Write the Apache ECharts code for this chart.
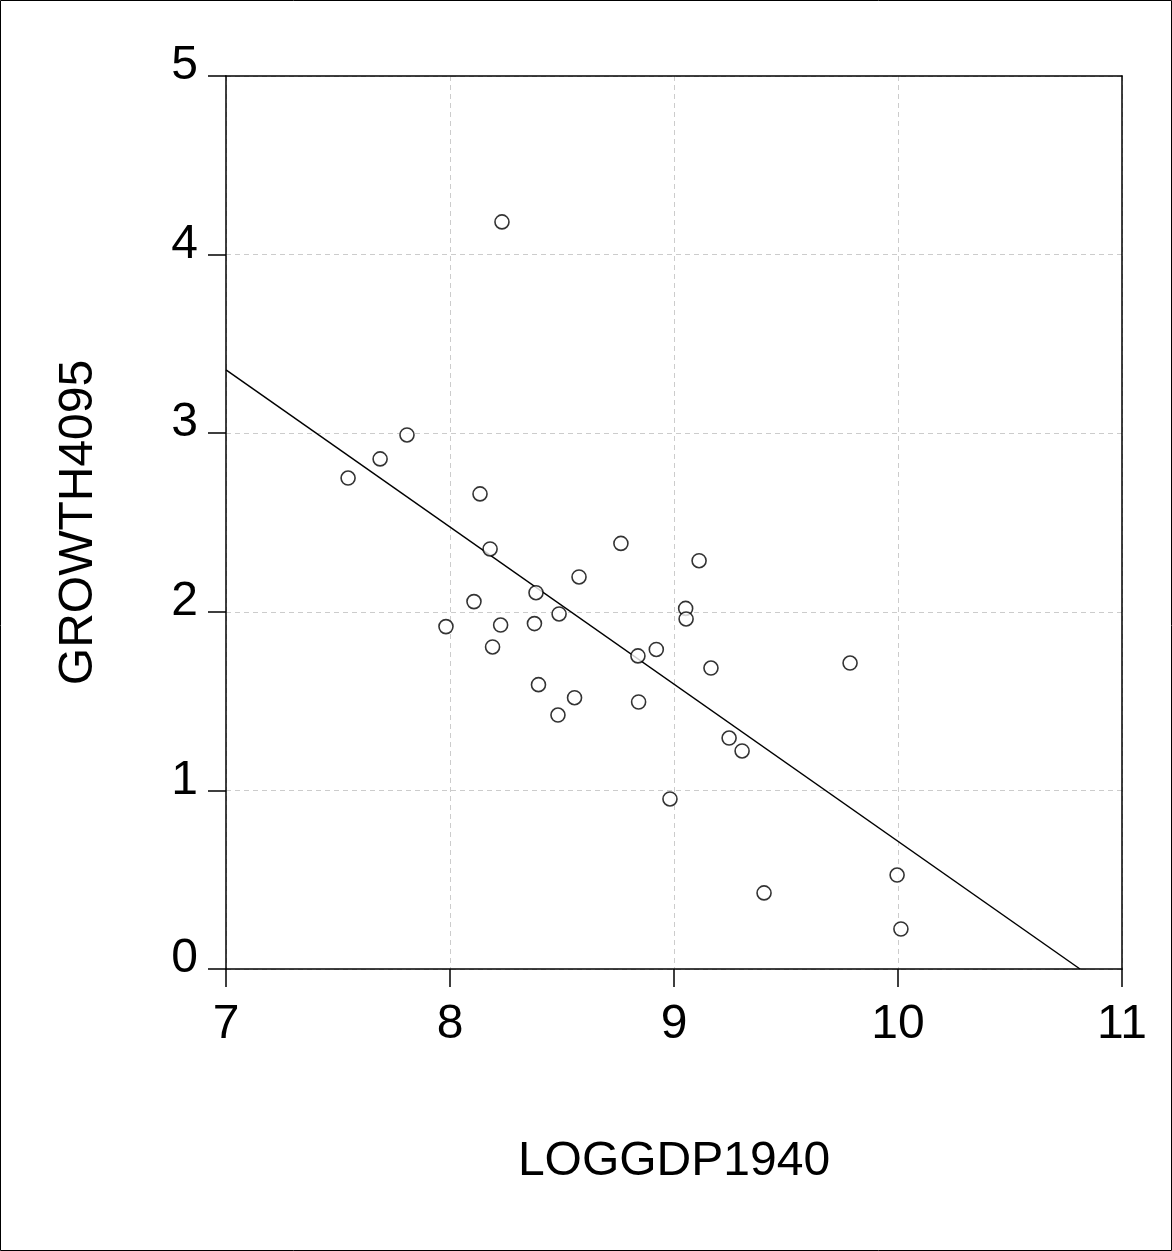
<!DOCTYPE html>
<html>
<head>
<meta charset="utf-8">
<script src="https://cdn.jsdelivr.net/npm/echarts@6/dist/echarts.min.js"></script>
<style>
html,body{margin:0;padding:0;background:#fff;}
#c{width:1172px;height:1251px;}
</style>
</head>
<body>
<div id="c"></div>
<script>
var loggdp1940 = [7.545, 7.688, 7.808, 7.982, 8.107, 8.134, 8.179, 8.190, 8.226, 8.232,
  8.377, 8.384, 8.395, 8.487, 8.482, 8.556, 8.576, 8.763, 8.839, 8.842,
  8.921, 8.982, 9.052, 9.054, 9.112, 9.165, 9.246, 9.304, 9.402, 9.786,
  9.996, 10.013];
var growth4095 = [2.749, 2.856, 2.990, 1.917, 2.057, 2.660, 2.352, 1.803, 1.926, 4.183,
  1.934, 2.107, 1.592, 1.988, 1.422, 1.519, 2.195, 2.383, 1.753, 1.495,
  1.789, 0.952, 2.019, 1.960, 2.286, 1.685, 1.293, 1.221, 0.426, 1.713,
  0.526, 0.224];
var fitX = [7, 10.8125];
var fitY = [3.355, 0];
var xTicks = [7, 8, 9, 10, 11];
var yTicks = [0, 1, 2, 3, 4, 5];

var pts = loggdp1940.map(function (x, i) { return [x, growth4095[i]]; });
var fit = fitX.map(function (x, i) { return [x, fitY[i]]; });

var chart = echarts.init(document.getElementById('c'), null, {renderer: 'canvas'});
var font = 'Liberation Sans, Arial, sans-serif';
var frameAxis = {
  show: true,
  axisLine: {show: true, onZero: false, lineStyle: {color: '#000', width: 1.5}},
  axisTick: {show: false}, axisLabel: {show: false}, splitLine: {show: false}
};
chart.setOption({
  animation: false,
  backgroundColor: '#fff',
  graphic: [{
    type: 'rect', silent: true, z: 100,
    shape: {x: 0.5, y: 0.5, width: 1171, height: 1250},
    style: {fill: 'none', stroke: '#000', lineWidth: 1}
  }],
  grid: {left: 226, right: 50, top: 76, bottom: 282},
  xAxis: [{
    type: 'value', min: xTicks[0], max: xTicks[xTicks.length - 1], interval: 1,
    name: 'LOGGDP1940', nameLocation: 'middle', nameGap: 169,
    nameTextStyle: {fontSize: 48, color: '#000', fontFamily: font},
    axisLine: {show: true, onZero: false, lineStyle: {color: '#000', width: 1.5}},
    axisTick: {show: true, length: 18, lineStyle: {color: '#000', width: 1.5}},
    axisLabel: {fontSize: 48, color: '#000', fontFamily: font, margin: 32},
    splitLine: {show: true, lineStyle: {color: '#cccccc', type: [5, 4], width: 1}}
  }, Object.assign({type: 'value', position: 'top', min: xTicks[0], max: xTicks[xTicks.length - 1], interval: 1}, frameAxis)],
  yAxis: [{
    type: 'value', min: yTicks[0], max: yTicks[yTicks.length - 1], interval: 1,
    name: 'GROWTH4095', nameLocation: 'middle', nameGap: 123, nameRotate: 90,
    nameTextStyle: {fontSize: 48, color: '#000', fontFamily: font},
    axisLine: {show: true, onZero: false, lineStyle: {color: '#000', width: 1.5}},
    axisTick: {show: true, length: 18, lineStyle: {color: '#000', width: 1.5}},
    axisLabel: {
      margin: 28,
      formatter: function (v) { return '{a|' + v + '}'; },
      rich: {a: {fontSize: 48, color: '#000', fontFamily: font, padding: [0, 0, 20, 0]}}
    },
    splitLine: {show: true, lineStyle: {color: '#cccccc', type: [5, 4], width: 1}}
  }, Object.assign({type: 'value', position: 'right', min: yTicks[0], max: yTicks[yTicks.length - 1], interval: 1}, frameAxis)],
  series: [{
    type: 'line', data: fit, showSymbol: false, symbol: 'none',
    lineStyle: {color: '#000', width: 1.5}, z: 2
  }, {
    type: 'scatter', data: pts, symbol: 'circle', symbolSize: 14,
    itemStyle: {color: '#fff', borderColor: '#000', borderWidth: 1.6}, z: 3
  }]
});
</script>
</body>
</html>
